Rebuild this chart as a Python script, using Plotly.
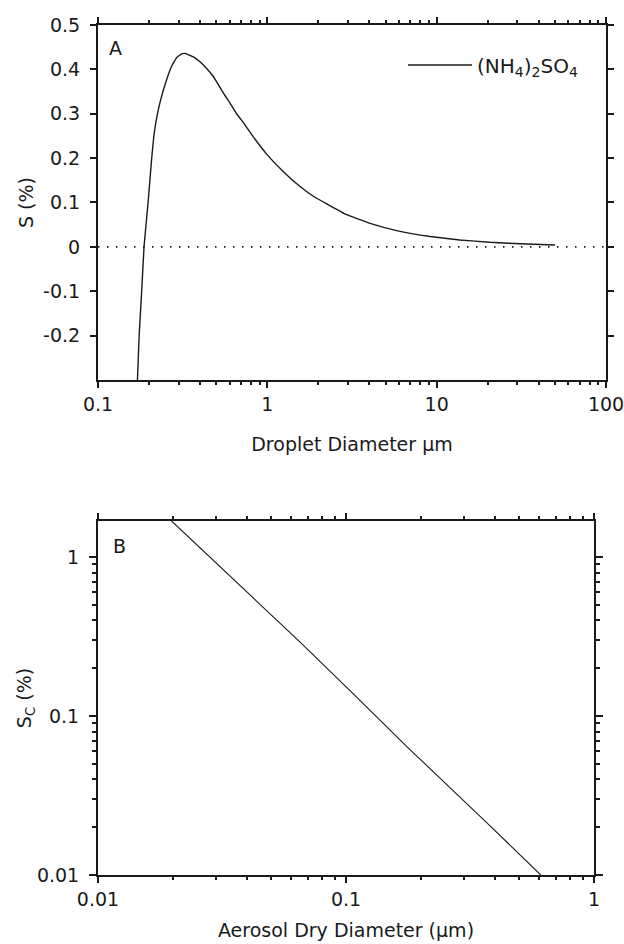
import plotly.graph_objects as go

# Panel A: Köhler curve for (NH4)2SO4
droplet_diameter_um = [0.171, 0.175, 0.181, 0.187, 0.198, 0.207, 0.214, 0.224, 0.234, 0.249,
                       0.272, 0.292, 0.312, 0.327, 0.366, 0.400, 0.438, 0.480, 0.513, 0.549,
                       0.602, 0.659, 0.738, 0.826, 0.991, 1.24, 1.56, 1.87, 2.94, 4.04,
                       5.80, 9.14, 13.7, 20.6, 34.0, 50.0]
supersat_pct = [-0.300, -0.200, -0.102, 0.000, 0.104, 0.195, 0.252, 0.298, 0.330, 0.366,
                0.407, 0.427, 0.435, 0.436, 0.428, 0.417, 0.402, 0.384, 0.366, 0.347,
                0.324, 0.300, 0.275, 0.248, 0.209, 0.170, 0.136, 0.114, 0.0725, 0.0528,
                0.0367, 0.0233, 0.0155, 0.0103, 0.0063, 0.0043]

# Panel B: critical supersaturation vs dry diameter
dry_diameter_um = [0.0198, 0.0283, 0.0653, 0.104, 0.181, 0.381, 0.61]
crit_supersat_pct = [1.69, 0.995, 0.292, 0.144, 0.0616, 0.0204, 0.010]

top_x_ticks = [0.1, 1, 10, 100]
top_x_labels = ["0.1", "1", "10", "100"]
top_y_ticks = [-0.2, -0.1, 0, 0.1, 0.2, 0.3, 0.4, 0.5]
top_y_labels = ["-0.2", "-0.1", "0", "0.1", "0.2", "0.3", "0.4", "0.5"]
bot_x_ticks = [0.01, 0.1, 1]
bot_x_labels = ["0.01", "0.1", "1"]
bot_y_ticks = [0.01, 0.1, 1]
bot_y_labels = ["0.01", "0.1", "1"]

FONT = "DejaVu Sans, Verdana, sans-serif"
FS = 19
INK = "#1a1a1a"

def minor_vals(lo_exp, hi_exp):
    return [m * 10 ** e for e in range(lo_exp, hi_exp) for m in range(2, 10)]

fig = go.Figure()
fig.add_trace(go.Scatter(x=[0.1, 100], y=[0, 0], mode="lines",
                         line=dict(color=INK, width=1.6, dash="1.5px,7.5px"),
                         xaxis="x", yaxis="y", showlegend=False, hoverinfo="skip"))
fig.add_trace(go.Scatter(x=droplet_diameter_um, y=supersat_pct, mode="lines",
                         line=dict(color=INK, width=1.4, shape="spline", smoothing=0.3),
                         xaxis="x", yaxis="y", showlegend=False))
fig.add_trace(go.Scatter(x=dry_diameter_um, y=crit_supersat_pct, mode="lines",
                         line=dict(color=INK, width=1.1),
                         xaxis="x2", yaxis="y2", showlegend=False))

axis_common = dict(showline=True, linecolor=INK, linewidth=2, mirror="ticks",
                   ticks="outside", tickcolor=INK, tickwidth=1.5, showgrid=False,
                   zeroline=False, automargin=False, ticklabeloverflow="allow",
                   tickfont=dict(family=FONT, size=FS, color=INK),
                   title_font=dict(family=FONT, size=FS, color=INK))

fig.update_layout(
    template="none",
    width=624, height=944,
    margin=dict(l=98, r=18, t=25, b=69, autoexpand=False),
    paper_bgcolor="white", plot_bgcolor="white",
    font=dict(family=FONT, size=FS, color=INK),
    showlegend=False,
    xaxis=dict(type="log", range=[-1, 2], domain=[0, 1], anchor="y",
               tickvals=top_x_ticks, ticktext=top_x_labels, ticklen=6,
               ticklabelstandoff=0,
               minor=dict(tickvals=minor_vals(-1, 2), ticks="outside", ticklen=3,
                          tickcolor=INK, tickwidth=1.5, showgrid=False),
               title=dict(text="Droplet Diameter µm", standoff=24), **axis_common),
    yaxis=dict(range=[-0.3, 0.5], domain=[0.5824, 1.0], anchor="x",
               tickvals=top_y_ticks, ticktext=top_y_labels, ticklen=6,
               ticklabelstandoff=6,
               title=dict(text="S (%)", standoff=4), **axis_common),
    xaxis2=dict(type="log", range=[-2, 0], domain=[0, 0.9764], anchor="y2",
                tickvals=bot_x_ticks, ticktext=bot_x_labels, ticklen=6,
                ticklabelstandoff=0,
                minor=dict(tickvals=minor_vals(-2, 0), ticks="outside", ticklen=3,
                           tickcolor=INK, tickwidth=1.5, showgrid=False),
                title=dict(text="Aerosol Dry Diameter (µm)", standoff=15), **axis_common),
    yaxis2=dict(type="log", range=[-2, 0.228], domain=[0, 0.4165], anchor="x2",
                tickvals=bot_y_ticks, ticktext=bot_y_labels, ticklen=7,
                ticklabelstandoff=6,
                minor=dict(tickvals=minor_vals(-2, 1), ticks="outside", ticklen=4,
                           tickcolor=INK, tickwidth=1.5, showgrid=False),
                title=dict(text="S<sub>C</sub> (%)", standoff=0), **axis_common),
)

# panel letters
fig.add_annotation(text="A", xref="x domain", yref="y domain", x=0.018, y=0.935,
                   xanchor="left", yanchor="middle", showarrow=False,
                   font=dict(family=FONT, size=FS, color=INK))
fig.add_annotation(text="B", xref="x2 domain", yref="y2 domain", x=0.026, y=0.93,
                   xanchor="left", yanchor="middle", showarrow=False,
                   font=dict(family=FONT, size=FS, color=INK))

# legend sample (line + label)
fig.add_shape(type="line", xref="x domain", yref="y domain",
              x0=(408 - 98) / 508, x1=(472 - 98) / 508,
              y0=(380 - 65) / 355, y1=(380 - 65) / 355,
              line=dict(color=INK, width=1.4))
fig.add_annotation(text="(NH<sub>4</sub>)<sub>2</sub>SO<sub>4</sub>",
                   xref="x domain", yref="y domain",
                   x=(475 - 98) / 508, y=(380 - 67) / 355,
                   xanchor="left", yanchor="middle", showarrow=False,
                   font=dict(family=FONT, size=20, color=INK))

fig.write_html("out.html")
